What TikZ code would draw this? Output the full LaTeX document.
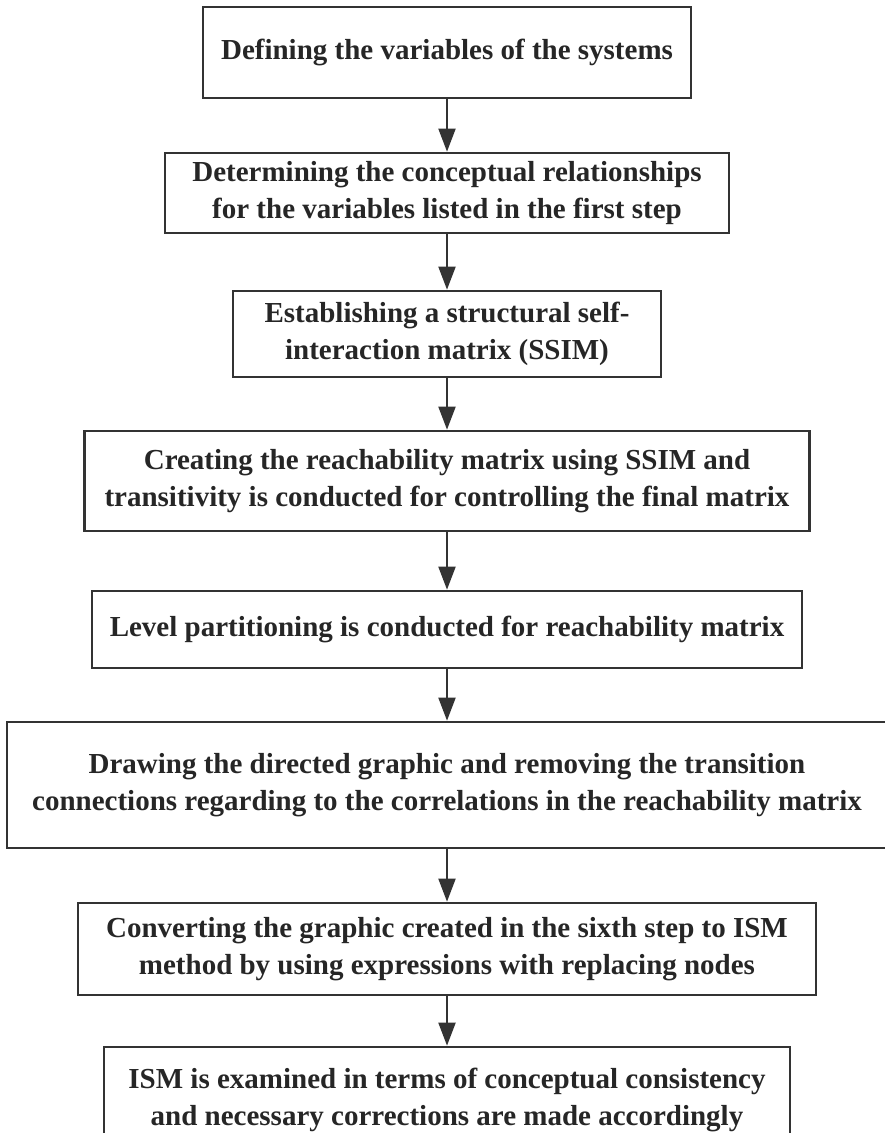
\documentclass[tikz,border=0pt]{standalone}
\usepackage{fontspec}
\setmainfont{Liberation Serif}
\usetikzlibrary{arrows.meta}
\definecolor{boxline}{HTML}{333333}
\begin{document}
\begin{tikzpicture}[x=0.5pt,y=-0.5pt,
  stepbox/.style={draw=boxline, line width=1.35pt, rectangle, align=center, inner sep=0pt,
    font=\fontsize{14.5}{18.5}\selectfont\bfseries, text=black!85},
  >={Triangle[length=11.5pt,width=8.5pt]}]
\useasboundingbox (0,0) rectangle (884,1133);
\node[stepbox, minimum width=244pt, minimum height=45.5pt] (s1) at (447,52.5) {Defining the variables of the systems};
\node[stepbox, minimum width=282pt, minimum height=40pt] (s2) at (447,193) {Determining the conceptual relationships\\for the variables listed in the first step};
\node[stepbox, minimum width=214pt, minimum height=43pt] (s3) at (447,334) {Establishing a structural self-\\interaction matrix (SSIM)};
\node[stepbox, minimum width=362.5pt, minimum height=50pt] (s4) at (447,481) {Creating the reachability matrix using SSIM and\\transitivity is conducted for controlling the final matrix};
\node[stepbox, minimum width=355pt, minimum height=38.5pt] (s5) at (447,629.5) {Level partitioning is conducted for reachability matrix};
\node[stepbox, minimum width=440pt, minimum height=63pt] (s6) at (447,785) {Drawing the directed graphic and removing the transition\\connections regarding to the correlations in the reachability matrix};
\node[stepbox, minimum width=369pt, minimum height=46pt] (s7) at (447,949) {Converting the graphic created in the sixth step to ISM\\method by using expressions with replacing nodes};
\node[stepbox, minimum width=343pt, minimum height=53pt] (s8) at (447,1100) {ISM is examined in terms of conceptual consistency\\and necessary corrections are made accordingly};
\draw[->, line width=1pt, boxline] (s1) -- (s2);
\draw[->, line width=1pt, boxline] (s2) -- (s3);
\draw[->, line width=1pt, boxline] (s3) -- (s4);
\draw[->, line width=1pt, boxline] (s4) -- (s5);
\draw[->, line width=1pt, boxline] (s5) -- (s6);
\draw[->, line width=1pt, boxline] (s6) -- (s7);
\draw[->, line width=1pt, boxline] (s7) -- (s8);
\end{tikzpicture}
\end{document}
